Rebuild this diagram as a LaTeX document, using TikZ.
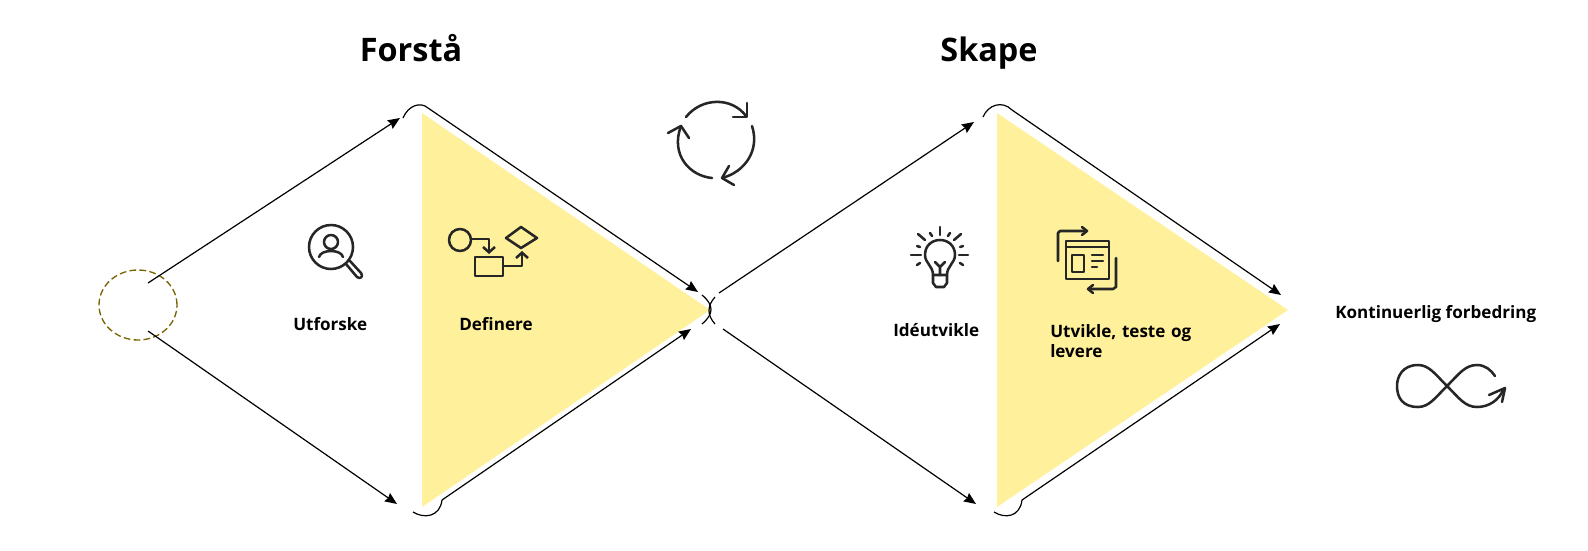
\documentclass[tikz,border=0pt]{standalone}
\usepackage{fontspec}
\setmainfont{Open Sans}
\usetikzlibrary{arrows.meta,shapes.geometric}
\definecolor{softyellow}{HTML}{FFF09C}
\definecolor{darkolive}{HTML}{7A6400}
\tikzset{
	flow/.style = {draw = black, line width = 0.9pt, -{Stealth[length=9pt,width=7.5pt,inset=1pt]}},
	plain/.style = {draw = black, line width = 0.9pt},
	icon/.style = {draw = black!85, line width = 1.9pt, line cap = round, line join = round},
	tipped/.style = {icon, -{Straight Barb[length=4pt,width=9pt]}},
	heading/.style = {font = \bfseries\fontsize{24.3}{28}\selectfont, anchor = base},
	label/.style = {font = \bfseries\fontsize{12.8}{15.6}\selectfont, align = left, anchor = base west, inner sep = 0pt},
	tri/.style = {fill = softyellow, draw = none}
}
\begin{document}
\begin{tikzpicture}[x=0.75pt,y=-0.75pt]
\useasboundingbox (0,0) rectangle (1588,550);

\fill[tri] (422,113) -- (710,310) -- (422,507) -- cycle;
\fill[tri] (997,113) -- (1288,310) -- (997,507) -- cycle;

\node[heading](forsta) at (411,61){Forstå};
\node[heading](skape) at (989,61){Skape};
\node[label](utforske) at (293,330){Utforske};
\node[label](definere) at (459,330){Definere};
\node[label](ideutvikle) at (893,336){Idéutvikle};
\node[label,text width=130pt](utvikle) at (1050,337){Utvikle, teste og\\levere};
\node[label](kontinuerlig) at (1335,318){Kontinuerlig forbedring};

\node[draw=darkolive,dash pattern=on 5pt off 2.5pt,line width=1pt,ellipse,minimum width=58.5pt,minimum height=52.5pt,inner sep=0pt](start) at (138,305){};

\coordinate (a1) at (148,283);
\coordinate (a2) at (400,118);
\coordinate (a3) at (148,331);
\coordinate (a4) at (397,504);
\coordinate (b1) at (719,293);
\coordinate (b2) at (974,122);
\coordinate (b3) at (723,329);
\coordinate (b4) at (976,504);
\coordinate (c1) at (428,108);
\coordinate (c2) at (698,292);
\coordinate (c3) at (442,500);
\coordinate (c4) at (691,329);
\coordinate (d1) at (1012,110);
\coordinate (d2) at (1281,295);
\coordinate (d3) at (1022,500);
\coordinate (d4) at (1280,324);

\path[flow] (a1) -- (a2);
\path[flow] (a3) -- (a4);
\path[flow] (b1) -- (b2);
\path[flow] (b3) -- (b4);
\path[flow] (c1) -- (c2);
\path[flow] (c3) -- (c4);
\path[flow] (d1) -- (d2);
\path[flow] (d3) -- (d4);

% round corners
\draw[plain] (403,118) .. controls (408,106) and (420,101) .. (c1);
\draw[plain] (413,512) .. controls (424,519) and (440,517) .. (c3);
\draw[plain] (983,117) .. controls (988,105) and (1002,100) .. (d1);
\draw[plain] (994,512) .. controls (1005,519) and (1020,517) .. (d3);
\draw[plain] (702,295) .. controls (714,305) and (714,314) .. (702,324);
\draw[plain] (715,297) .. controls (707,306) and (707,315) .. (715,324);

% magnifier
\begin{scope}[shift={(331,247)}]
\draw[icon] (0,0) circle (22);
\draw[icon] (0,-5) circle (7);
\draw[icon] (-12,10) .. controls (-10,2) and (10,2) .. (12,10);
\draw[icon] (15,17) -- (26,30) .. controls (29,33) and (33,29) .. (30,26) -- (19,14);
\end{scope}

% process
\draw[icon] (460,240) circle (11);
\draw[tipped] (471,239) -- (489,239) -- (489,254);
\draw[icon] (475,257) rectangle (503,276);
\draw[tipped] (503,266) -- (522,266) -- (522,251);
\draw[icon] (506,238) -- (521,227) -- (537,238) -- (521,248) -- cycle;

% cycle
\draw[icon] (686,117) .. controls (702,97) and (732,97) .. (746,116);
\draw[icon] (747,103) -- (747,117) -- (733,117);
\draw[icon] (752,126) .. controls (760,150) and (745,172) .. (722,178);
\draw[icon] (729,166) -- (722,178) -- (734,185);
\draw[icon] (712,178) .. controls (690,176) and (670,155) .. (681,126);
\draw[icon] (668,133) -- (681,126) -- (689,138);

% bulb
\draw[icon] (933,275) .. controls (933,266) and (925,263) .. (925,255) .. controls (925,235) and (955,235) .. (955,255) .. controls (955,263) and (947,266) .. (947,275) -- cycle;
\draw[icon] (933,275) -- (933,283) -- (936,287) -- (944,287) -- (947,283) -- (947,275);
\draw[icon] (940,275) -- (940,267) (935,262) -- (940,267) -- (945,262);
\draw[icon] (940,227) -- (940,235);
\draw[icon] (911,255) -- (921,255) (959,255) -- (968,255);
\draw[icon] (918,234) -- (925,240) (961,234) -- (954,240);
\draw[icon] (930,233) -- (932,236) (950,233) -- (948,236);
\draw[icon] (917,246) -- (920,247) (963,246) -- (960,247);
\draw[icon] (917,265) -- (920,263) (963,265) -- (960,263);

% page
\draw[icon] (1058,261) -- (1058,233) -- (1060,231) -- (1086,231);
\draw[icon] (1082,227) -- (1087,231) -- (1082,235);
\draw[icon] (1066,241) rectangle (1109,279);
\draw[icon] (1066,247) -- (1109,247);
\draw[icon] (1072,255) rectangle (1084,272);
\draw[icon] (1092,255) -- (1103,255) (1092,261) -- (1103,261) (1092,267) -- (1097,267);
\draw[icon] (1116,258) -- (1116,287) -- (1113,289) -- (1089,289);
\draw[icon] (1093,285) -- (1088,289) -- (1093,293);

% infinity
\begin{scope}[shift={(1447,386)}]
\draw[icon] (0,0) .. controls (-12,-12) and (-18,-21) .. (-29,-21) .. controls (-44,-21) and (-50,-10) .. (-50,0) .. controls (-50,12) and (-44,21) .. (-29,21) .. controls (-18,21) and (-12,12) .. (0,0) .. controls (12,-12) and (18,-21) .. (30,-21) .. controls (38,-21) and (44,-16) .. (48,-10);
\draw[icon] (0,0) .. controls (12,12) and (18,21) .. (30,21) .. controls (42,21) and (52,14) .. (56,4);
\draw[icon] (42,9) -- (58,2) -- (55,16);
\end{scope}
\end{tikzpicture}
\end{document}
